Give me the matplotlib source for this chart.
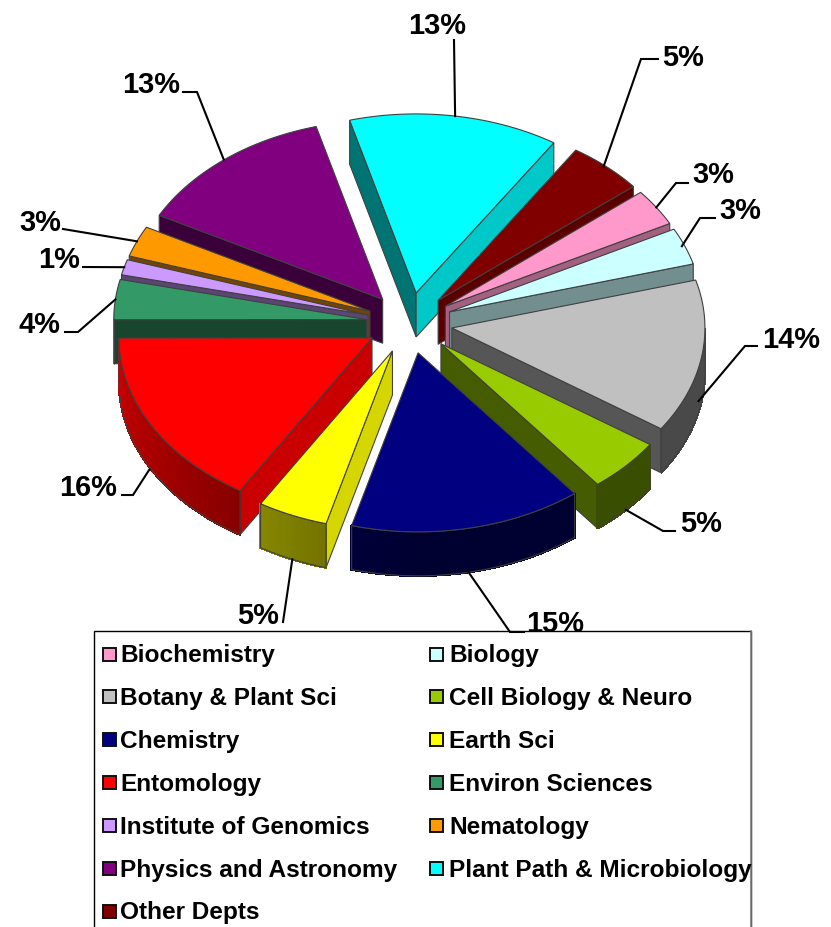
import numpy as np
import matplotlib
matplotlib.use("Agg")
import matplotlib.pyplot as plt
from matplotlib.patches import Polygon, Rectangle

plt.rcParams["font.family"] = ["Liberation Sans", "DejaVu Sans"]
plt.rcParams["font.weight"] = "bold"

# data, order is clockwise from the start angle
departments = ["Biochemistry", "Biology", "Botany & Plant Sci", "Cell Biology & Neuro",
               "Chemistry", "Earth Sci", "Entomology", "Environ Sciences",
               "Institute of Genomics", "Nematology", "Physics and Astronomy",
               "Plant Path & Microbiology", "Other Depts"]
shares = [3.33, 3.33, 13.83, 4.86, 14.85, 4.5, 16.26, 3.61, 1.39, 2.78, 13.0, 13.39, 4.87]
percent_labels = ["3%", "3%", "14%", "5%", "15%", "5%", "16%", "4%", "1%", "3%", "13%", "13%", "5%"]
colors = ["#FF99CC", "#CCFFFF", "#C0C0C0", "#99CC00", "#000080", "#FFFF00", "#FF0000",
          "#339966", "#CC99FF", "#FF9900", "#800080", "#00FFFF", "#800000"]

# pie geometry (pixels)
cx, cy = 409.5, 323
rx, ry = 253, 179
explode = 43
depth = 44
start_angle = 50.5
squash = ry / rx

# label text centre and leader elbow for each slice
label_pos = [(713, 175), (740, 211), (791, 340), (701, 524), (555, 624), (258, 616), (88, 488),
             (39, 325), (59, 260), (40, 223), (151, 85), (437, 26), (683, 58)]
label_elbow = [[(688, 183), (676, 183)], [(715, 218), (700, 218)], [(757, 346), (745, 346)],
               [(675, 531), (663, 531)], [(524, 632), (510, 632)], [(283, 622)],
               [(122, 495), (133, 495)], [(65, 332), (78, 332)], [(83, 267)], [(63, 229)],
               [(183, 92), (197, 92)], [(454, 40)], [(658, 59), (641, 59)]]
# small shifts of the leader tip along the rim, where the original does not hit the mid point
tip_nudge = [0, -3, -3, 0, 0, 0, -2, 0, 0, 0, -1, 0, -3]

fig = plt.figure(figsize=(8.31, 9.27), dpi=100)
ax = fig.add_axes([0, 0, 1, 1])
ax.set_xlim(0, 831)
ax.set_ylim(927, 0)
ax.axis("off")


def shade(color, f):
    rgb = np.array(matplotlib.colors.to_rgb(color))
    return tuple(rgb * f)


def wall_factor(normal):
    return 0.45 + 0.4 * max(0, np.cos(np.radians(normal - 90)))


def rim_factor(a):
    return 0.38 + 0.42 * max(0, (a - 180) / 90)


edge_col = "#404040"
edge_w = 0.8

ends = start_angle + np.cumsum(shares) * 3.6
starts = ends - np.array(shares) * 3.6
mids = (starts + ends) / 2

# back slices first so the front ones sit on top
order = sorted(range(len(shares)), key=lambda i: -abs(((mids[i] % 360)) - 180))

z = 3
for i in order:
    a0, a1, mid = starts[i], ends[i], mids[i]
    ox = cx + explode * np.sin(np.radians(mid))
    oy = cy - explode * squash * np.cos(np.radians(mid))
    angles = np.linspace(a0, a1, 80)
    arc_x = ox + rx * np.sin(np.radians(angles))
    arc_y = oy - ry * np.cos(np.radians(angles))

    # flat side walls
    for edge, normal, k in [(a0, a0 - 90, 0), (a1, a1 + 90, -1)]:
        if np.cos(np.radians(normal)) < 0:
            wall = [(ox, oy), (arc_x[k], arc_y[k]), (arc_x[k], arc_y[k] + depth), (ox, oy + depth)]
            ax.add_patch(Polygon(wall, closed=True, facecolor=shade(colors[i], wall_factor(normal % 360)),
                                 edgecolor=edge_col, lw=edge_w, zorder=z))
            z += 1

    # curved outer wall, only the part facing the viewer
    front = np.cos(np.radians(angles)) < 0
    if front.any():
        fa = np.where(front)[0]
        for j in fa[:-1]:
            quad = [(arc_x[j], arc_y[j]), (arc_x[j + 1], arc_y[j + 1]),
                    (arc_x[j + 1], arc_y[j + 1] + depth), (arc_x[j], arc_y[j] + depth)]
            col = shade(colors[i], rim_factor(angles[j] % 360))
            ax.add_patch(Polygon(quad, closed=True, facecolor=col, edgecolor=col, lw=1.0,
                                 antialiased=False, zorder=z))
        outline = list(zip(arc_x[fa], arc_y[fa])) + list(zip(arc_x[fa][::-1], arc_y[fa][::-1] + depth))
        ax.add_patch(Polygon(outline, closed=True, fill=False, edgecolor=edge_col, lw=edge_w, zorder=z))
        z += 1

    # top face
    top = [(ox, oy)] + list(zip(arc_x, arc_y))
    ax.add_patch(Polygon(top, closed=True, facecolor=colors[i], edgecolor=edge_col, lw=edge_w, zorder=z))
    z += 1

z_labels = z + 1

# legend box, drawn by hand because the original fills row by row
legend_left, legend_right, legend_top = 94, 751, 631
col_x = [102, 429]
row_y0, row_step = 655.5, 42.9
z_leg = z_labels + 1

# leaders and percent labels
for i in range(len(shares)):
    s, c = np.sin(np.radians(mids[i])), np.cos(np.radians(mids[i]))
    tip_x = cx + (explode + rx) * s + tip_nudge[i]
    tip_y = cy - (explode * squash + ry) * c
    if c < 0:
        tip_y += depth
    pts = label_elbow[i] + [(tip_x, tip_y)]
    ax.plot([p[0] for p in pts], [p[1] for p in pts], color="black", lw=1.5, zorder=z_leg + 1,
            solid_joinstyle="miter")
    ax.text(label_pos[i][0], label_pos[i][1], percent_labels[i], fontsize=20.9, fontweight="bold",
            ha="center", va="center", color="black", zorder=z_labels)

ax.add_patch(Rectangle((legend_left, legend_top), legend_right - legend_left, 320, facecolor="white",
                       edgecolor="black", lw=1, zorder=z_leg))
ax.plot([legend_right, legend_right], [legend_top, 927], color="#808080", lw=1.2, zorder=z_leg + 1)
for i, name in enumerate(departments):
    row, col = i // 2, i % 2
    y = row_y0 + row * row_step
    ax.add_patch(Rectangle((col_x[col] + 1, y - 8), 13, 13, facecolor=colors[i], edgecolor="#101010",
                           lw=1.4, zorder=z_leg + 1))
    ax.text(col_x[col] + 18 + col * 2, y, name, fontsize=17.6, fontweight="bold", ha="left", va="center",
            color="black", zorder=z_leg + 1)

fig.savefig("out.png", dpi=100)
